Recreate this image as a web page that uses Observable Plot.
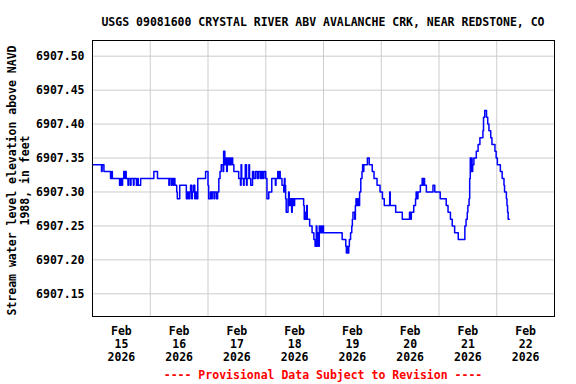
<!DOCTYPE html>
<html><head><meta charset="utf-8">
<script src="https://cdn.jsdelivr.net/npm/d3@7"></script>
<script src="https://cdn.jsdelivr.net/npm/@observablehq/plot@0.6"></script>
<style>
body{margin:0;background:#fff;width:576px;height:384px;overflow:hidden;font-family:"DejaVu Sans Mono",monospace;font-weight:bold;font-size:11.5px;}
#title{height:34px;box-sizing:border-box;padding-top:15px;line-height:14px;margin-left:92px;width:462px;text-align:center;white-space:nowrap;color:#000}
#caption{height:20px;box-sizing:border-box;padding-top:4px;line-height:14px;margin-left:92px;width:462px;text-align:center;white-space:nowrap;color:#f00}
#chart svg{display:block}
</style></head><body>
<div id="title"></div><div id="chart"></div><div id="caption"></div>
<script>
const titleText = "USGS 09081600 CRYSTAL RIVER ABV AVALANCHE CRK, NEAR REDSTONE, CO";
const yAxisTitle = "Stream water level elevation above NAVD\n1988, in feet";
const captionText = "---- Provisional Data Subject to Revision ----";
const startDate = "2026-02-15T00:00:00Z";
const endDate = "2026-02-23T00:00:00Z";
// hours after start (step changes of the 15-minute record)
const hours = [0,3.75,4,4.75,7.5,8,8.25,11.25,11.75,12.25,12.5,13,13.5,13.75,14,14.75,15,15.75,16,17,17.25,18.25,18.75,19,20,25.5,27,31.75,32,32.75,33,33.5,33.75,34.25,35,35.25,36.25,39,39.5,40,40.5,40.75,41.25,41.5,42,42.5,42.75,43.25,43.75,47,48,48.25,49,49.5,49.75,50.5,50.75,51.5,52,52.5,53,53.5,54.25,54.5,55,55.5,55.75,56,56.5,57,57.25,57.75,58.25,58.75,60.75,61.5,61.75,62,62.75,63,63.5,64,64.25,65,65.25,65.75,66.5,67,67.75,68.5,69,69.75,70.25,70.75,71.25,72,72.5,73.25,74.5,76,76.25,77,77.25,77.75,78,78.75,79.5,79.75,80,80.25,80.5,81.25,81.5,81.75,82.25,82.75,83,83.5,84,87.75,88,88.5,88.75,89,89.25,90.25,91.25,92,92.5,93,93.25,93.5,94,94.25,94.5,95,95.25,95.75,96,103.75,105.25,105.5,105.75,106,106.5,106.75,107.25,107.75,108,108.25,109,109.25,109.5,109.75,110.25,110.5,111,111.5,112,112.25,112.5,112.75,114.25,115,116.25,117,118.25,119.5,120.5,121.25,123.5,123.75,126,128.75,131.75,132.25,132.5,133.5,134.25,134.5,134.75,135.25,136.25,137,137.25,137.5,138,138.75,141.5,142.25,144.5,147,147.75,148.75,149.5,150.5,152,154.75,155.25,155.75,156,156.5,156.75,157,157.25,157.5,157.75,158,158.5,159.5,160.25,161,162.25,162.5,163,163.75,164.25,164.75,165.5,166,167.25,167.75,168.25,169.5,170.25,171,171.25,172,172.25,172.5,172.75,173.25];
const stage = [6907.34,6907.33,6907.34,6907.33,6907.32,6907.33,6907.32,6907.31,6907.32,6907.31,6907.32,6907.33,6907.32,6907.33,6907.32,6907.31,6907.32,6907.31,6907.32,6907.31,6907.32,6907.31,6907.32,6907.31,6907.32,6907.33,6907.32,6907.31,6907.32,6907.31,6907.32,6907.31,6907.32,6907.31,6907.30,6907.29,6907.31,6907.29,6907.30,6907.29,6907.30,6907.31,6907.29,6907.30,6907.31,6907.29,6907.30,6907.29,6907.32,6907.33,6907.31,6907.29,6907.30,6907.29,6907.30,6907.29,6907.30,6907.29,6907.30,6907.32,6907.33,6907.34,6907.33,6907.36,6907.34,6907.35,6907.33,6907.35,6907.34,6907.35,6907.34,6907.35,6907.34,6907.33,6907.32,6907.31,6907.34,6907.32,6907.31,6907.32,6907.34,6907.31,6907.32,6907.34,6907.32,6907.31,6907.33,6907.32,6907.33,6907.32,6907.33,6907.32,6907.33,6907.32,6907.33,6907.32,6907.29,6907.30,6907.32,6907.31,6907.32,6907.33,6907.32,6907.33,6907.32,6907.31,6907.30,6907.32,6907.31,6907.29,6907.27,6907.29,6907.30,6907.28,6907.29,6907.27,6907.29,6907.28,6907.29,6907.28,6907.26,6907.27,6907.26,6907.28,6907.26,6907.25,6907.24,6907.23,6907.22,6907.25,6907.22,6907.24,6907.22,6907.25,6907.24,6907.25,6907.24,6907.25,6907.24,6907.23,6907.22,6907.21,6907.22,6907.21,6907.22,6907.23,6907.24,6907.25,6907.26,6907.27,6907.26,6907.28,6907.29,6907.28,6907.29,6907.28,6907.30,6907.32,6907.33,6907.34,6907.33,6907.34,6907.35,6907.34,6907.33,6907.32,6907.31,6907.30,6907.29,6907.28,6907.30,6907.28,6907.27,6907.26,6907.27,6907.26,6907.27,6907.28,6907.29,6907.30,6907.29,6907.30,6907.31,6907.32,6907.31,6907.32,6907.31,6907.30,6907.31,6907.30,6907.29,6907.28,6907.27,6907.26,6907.25,6907.24,6907.23,6907.25,6907.26,6907.27,6907.28,6907.29,6907.32,6907.35,6907.33,6907.35,6907.33,6907.34,6907.35,6907.36,6907.37,6907.38,6907.39,6907.41,6907.42,6907.41,6907.40,6907.39,6907.38,6907.37,6907.36,6907.35,6907.34,6907.33,6907.32,6907.31,6907.30,6907.29,6907.28,6907.27,6907.26,6907.26];
const yTicks = [6907.15,6907.20,6907.25,6907.30,6907.35,6907.40,6907.45,6907.50];
const yDomain = [6907.1166,6907.5231];
const labelDays = ["2026-02-15","2026-02-16","2026-02-17","2026-02-18","2026-02-19","2026-02-20","2026-02-21","2026-02-22"];
const gridDays = ["2026-02-16","2026-02-17","2026-02-18","2026-02-19","2026-02-20","2026-02-21","2026-02-22"];

const t0 = new Date(startDate).getTime();
const series = hours.map((h, i) => ({t: new Date(t0 + h * 3600e3), v: stage[i]}));
const labelDates = labelDays.map(d => new Date(d + "T12:00:00Z"));
const gridDates = gridDays.map(d => new Date(d + "T00:00:00Z"));
const fmt = d3.utcFormat("%b\n%d\n%Y");

document.getElementById("title").textContent = titleText;
document.getElementById("caption").textContent = captionText;

const chart = Plot.plot({
  width: 576, height: 330,
  marginLeft: 92, marginRight: 22, marginTop: 6, marginBottom: 48,
  x: {type: "utc", domain: [new Date(startDate), new Date(endDate)], axis: null},
  y: {domain: yDomain},
  style: {fontFamily: "'DejaVu Sans Mono', monospace", fontWeight: "bold", fontSize: "11.5px", color: "black", background: "white"},
  marks: [
    Plot.gridY(yTicks, {stroke: "#cccccc", strokeOpacity: 1}),
    Plot.gridX(gridDates, {stroke: "#cccccc", strokeOpacity: 1}),
    Plot.line(series, {x: "t", y: "v", curve: "step-after", stroke: "#0000ff", strokeWidth: 1.5}),
    Plot.frame({stroke: "black"}),
    Plot.axisY(yTicks, {tickSize: 0, tickPadding: 8, tickFormat: d3.format(".2f"), label: null}),
    Plot.text(labelDates, {x: d => d, y: yDomain[0], text: d => fmt(d), lineAnchor: "top", dy: 9, lineHeight: 1.15}),
    Plot.text([yAxisTitle], {text: d => d, frameAnchor: "left", textAnchor: "middle", lineAnchor: "middle", rotate: -90, dx: -74, dy: 2, lineHeight: 1.15})
  ]
});
document.getElementById("chart").appendChild(chart);
</script>
</body></html>
